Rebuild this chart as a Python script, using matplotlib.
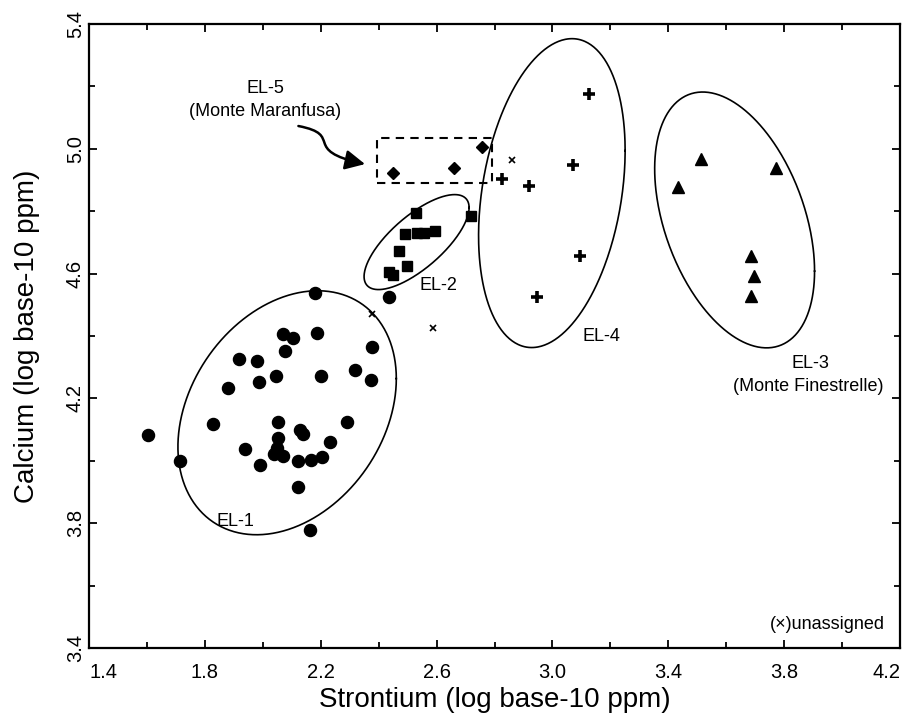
import numpy as np
import matplotlib
matplotlib.use("Agg")
import matplotlib.pyplot as plt
from matplotlib.path import Path
from matplotlib.patches import FancyArrowPatch, Rectangle

plt.rcParams['font.family'] = ['Liberation Sans', 'DejaVu Sans']

# EL-1 (circles)
el1_sr = [2.180, 2.437, 2.071, 2.105, 2.186, 2.078, 2.377, 1.917, 1.980, 2.318,
          2.045, 2.202, 1.988, 2.374, 1.881, 1.828, 2.052, 2.291, 2.129, 2.140,
          2.052, 2.233, 1.940, 2.048, 2.039, 2.071, 2.167, 2.205, 2.121, 1.990,
          2.121, 1.715, 2.162, 1.604]
el1_ca = [4.539, 4.526, 4.405, 4.393, 4.409, 4.353, 4.366, 4.326, 4.320, 4.292,
          4.272, 4.272, 4.254, 4.259, 4.232, 4.118, 4.125, 4.125, 4.099, 4.086,
          4.072, 4.060, 4.038, 4.040, 4.022, 4.015, 4.002, 4.012, 3.998, 3.988,
          3.917, 3.999, 3.777, 4.083]

# EL-2 (squares)
el2_sr = [2.528, 2.719, 2.492, 2.531, 2.558, 2.595, 2.471, 2.497, 2.437, 2.449]
el2_ca = [4.795, 4.785, 4.726, 4.731, 4.731, 4.737, 4.673, 4.624, 4.606, 4.595]

# EL-3 (triangles)
el3_sr = [3.435, 3.513, 3.771, 3.686, 3.697, 3.686]
el3_ca = [4.879, 4.966, 4.939, 4.657, 4.593, 4.529]

# EL-4 (plus)
el4_sr = [3.127, 3.072, 2.827, 2.920, 3.095, 2.948]
el4_ca = [5.176, 4.948, 4.903, 4.882, 4.657, 4.526]

# EL-5 (diamonds)
el5_sr = [2.451, 2.661, 2.758]
el5_ca = [4.921, 4.937, 5.005]

# unassigned
un_sr = [2.862, 2.589, 2.377]
un_ca = [4.964, 4.425, 4.471]

# ellipses: center x, center y, half width, half height, coupling cos(delta)
ell_cx = [2.084, 2.531, 3.629, 2.998]
ell_cy = [4.154, 4.701, 4.772, 4.858]
ell_rx = [0.377, 0.1813, 0.276, 0.253]
ell_ry = [0.391, 0.1522, 0.410, 0.495]
ell_c = [0.28, 0.725, -0.40, 0.275]

xticks = [1.4, 1.8, 2.2, 2.6, 3.0, 3.4, 3.8, 4.2]
yticks = [3.4, 3.8, 4.2, 4.6, 5.0, 5.4]

fig = plt.figure(figsize=(9.19, 7.21), dpi=100)
ax = fig.add_axes([89/919, 1 - 648/721, 811/919, 624/721])

t = np.linspace(0, 2*np.pi, 400)
for cx, cy, rx, ry, c in zip(ell_cx, ell_cy, ell_rx, ell_ry, ell_c):
    d = np.arccos(c)
    ax.plot(cx + rx*np.cos(t), cy + ry*np.cos(t - d), color='black', lw=1.2)

ax.plot(el1_sr, el1_ca, 'o', color='black', ms=8.7, ls='none')
ax.plot(el2_sr, el2_ca, 's', color='black', ms=7.5, ls='none')
ax.plot(el3_sr, el3_ca, '^', color='black', ms=9, ls='none')
ax.plot(el4_sr, el4_ca, '+', color='black', ms=9, mew=2.6, ls='none')
ax.plot(el5_sr, el5_ca, 'D', color='black', ms=6.5, ls='none')
ax.plot(un_sr, un_ca, 'x', color='black', ms=5, mew=1.2, ls='none')

# dashed box around EL-5
ax.add_patch(Rectangle((2.395, 4.889), 0.395, 0.1466, fill=False,
                       ls=(0, (4, 3)), lw=1.5, color='black'))

# squiggly arrow
verts = [(2.123, 5.073), (2.284, 5.044), (2.129, 4.996), (2.353, 4.951)]
codes = [Path.MOVETO, Path.CURVE4, Path.CURVE4, Path.CURVE4]
arr = FancyArrowPatch(path=Path(verts, codes), arrowstyle='-|>,head_length=0.6,head_width=0.3',
                      mutation_scale=20, color='black', lw=1.8)
ax.add_patch(arr)

fs = 13
ax.text(2.008, 5.194, 'EL-5', ha='center', va='center', fontsize=fs)
ax.text(2.008, 5.119, '(Monte Maranfusa)', ha='center', va='center', fontsize=fs)
ax.text(1.904, 3.804, 'EL-1', ha='center', va='center', fontsize=fs)
ax.text(2.606, 4.563, 'EL-2', ha='center', va='center', fontsize=fs)
ax.text(3.168, 4.398, 'EL-4', ha='center', va='center', fontsize=fs)
ax.text(3.890, 4.313, 'EL-3', ha='center', va='center', fontsize=fs)
ax.text(3.884, 4.238, '(Monte Finestrelle)', ha='center', va='center', fontsize=fs)
ax.text(4.149, 3.474, '(\u00d7)unassigned', ha='right', va='center', fontsize=fs)

ax.set_xlim(1.4, 4.2)
ax.set_ylim(3.4, 5.4)
ax.set_xticks(xticks)
ax.set_xticklabels([f'{v:.1f}' for v in xticks], fontsize=14.5)
ax.set_yticks(yticks)
ax.set_yticklabels([f'{v:.1f}' for v in yticks], fontsize=14.5, rotation=90, va='center')
ax.set_xticks(np.arange(1.6, 4.2, 0.4), minor=True)
ax.set_yticks(np.arange(3.6, 5.4, 0.4), minor=True)
ax.tick_params(which='both', direction='in', top=True, right=True, width=1.3)
ax.tick_params(which='major', length=6)
ax.tick_params(which='minor', length=4)
ax.tick_params(axis='x', pad=11)
ax.tick_params(axis='y', pad=3)
xl = ax.get_xticklabels()
xl[0].set_ha('left')
xl[-1].set_ha('right')
for s in ax.spines.values():
    s.set_linewidth(1.6)

ax.set_xlabel('Strontium (log base-10 ppm)', fontsize=20)
ax.set_ylabel('Calcium (log base-10 ppm)', fontsize=20)
ax.xaxis.set_label_coords(0.5, -0.062)
ax.yaxis.set_label_coords(-0.06, 0.5)

fig.savefig('out.png', dpi=100)
